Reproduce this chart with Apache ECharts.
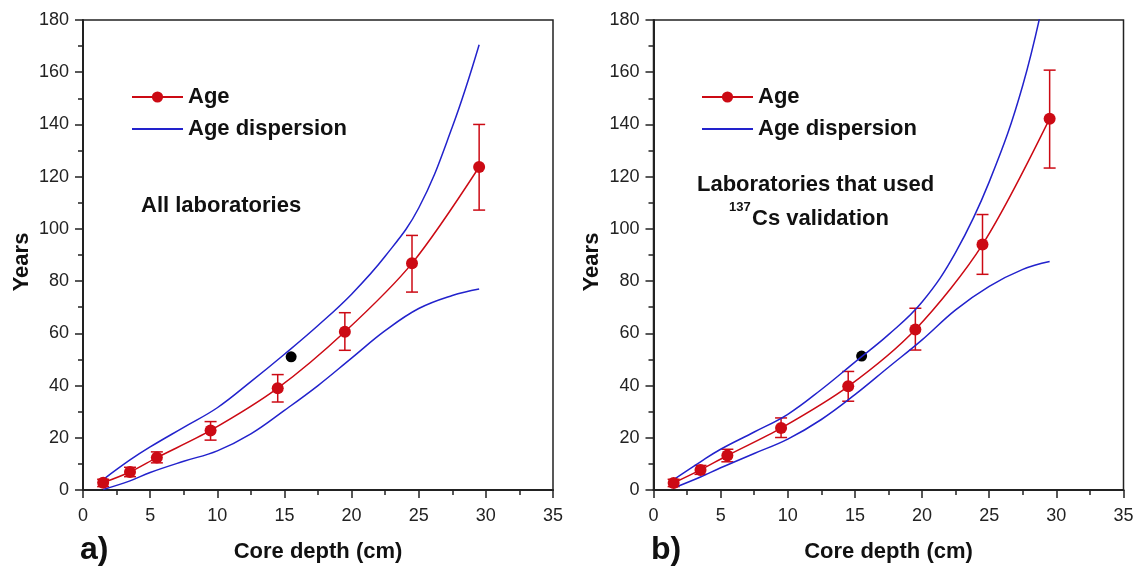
<!DOCTYPE html>
<html>
<head>
<meta charset="utf-8">
<script src="https://cdn.jsdelivr.net/npm/echarts@6/dist/echarts.min.js"></script>
<style>
  html, body { margin: 0; padding: 0; background: #fff; }
  #chart { width: 1137px; height: 566px; }
</style>
</head>
<body>
<div id="chart"></div>
<script>
// core depths of the sampled sections (cm)
const depth = [1.5, 3.5, 5.5, 9.5, 14.5, 19.5, 24.5, 29.5]

// a) all laboratories
const ageA = [2.8, 6.9, 12.4, 22.8, 39.0, 60.6, 86.8, 123.7]
const ageALow = [1.3, 5.1, 10.4, 19.1, 33.7, 53.5, 75.8, 107.2]
const ageAHigh = [4.1, 8.7, 14.6, 26.2, 44.2, 67.9, 97.5, 140.0]

// b) laboratories that used 137Cs validation
const ageB = [2.7, 7.7, 13.2, 23.7, 39.7, 61.5, 94.0, 142.2]
const ageBLow = [1.3, 6.0, 10.8, 20.1, 34.0, 53.6, 82.6, 123.3]
const ageBHigh = [4.1, 9.4, 15.6, 27.6, 45.4, 69.6, 105.5, 160.8]

// 137Cs reference point
const refDepth = [15.5]
const refAgeA = [51.0]
const refAgeB = [51.3]

// age dispersion envelopes
const dispDepth = [1.5, 3.5, 5, 7.5, 10, 12.5, 15, 17.5, 20, 22.5, 25, 27.5, 29.5]
const upperA = [4, 11.5, 16.5, 24, 31.5, 41.5, 52, 63, 75, 89.5, 108, 139, 170.5]
const lowerA = [0.2, 3.5, 6.7, 11, 15, 21.5, 30.5, 40, 50.5, 61, 69.5, 74.5, 77]
const upperB = [4, 10.8, 15.6, 22.2, 29, 38.5, 49, 59.5, 72, 91, 118, 155, 199]
const lowerB = [0.8, 5, 8.5, 14, 19.5, 27, 36.5, 47, 57.5, 69, 78, 84.5, 87.5]

const xTicks = [0, 5, 10, 15, 20, 25, 30, 35]
const yTicks = [0, 20, 40, 60, 80, 100, 120, 140, 160, 180]

const RED = '#cc0a14'
const BLUE = '#2222cc'
const FONT = 'Liberation Sans, Arial, sans-serif'

const zip = (xs, ys) => xs.map((x, i) => [x, ys[i]])

const chart = echarts.init(document.getElementById('chart'))

const makeXAxis = (gridIndex) => ({
  gridIndex,
  type: 'value',
  min: xTicks[0],
  max: xTicks[xTicks.length - 1],
  interval: 5,
  axisLine: { lineStyle: { color: '#222', width: 2 } },
  axisTick: { length: 8, lineStyle: { color: '#222', width: 1.5 } },
  minorTick: { show: true, splitNumber: 2, length: 5, lineStyle: { color: '#222', width: 1.5 } },
  splitLine: { show: false },
  axisLabel: { color: '#222', fontSize: 18, fontFamily: FONT, margin: 17 },
})

const makeYAxis = (gridIndex) => ({
  gridIndex,
  type: 'value',
  min: yTicks[0],
  max: yTicks[yTicks.length - 1],
  interval: 20,
  axisLine: { show: true, lineStyle: { color: '#222', width: 2 } },
  axisTick: { show: true, length: 8, lineStyle: { color: '#222', width: 1.5 } },
  minorTick: { show: true, splitNumber: 2, length: 5, lineStyle: { color: '#222', width: 1.5 } },
  splitLine: { show: false },
  axisLabel: { color: '#222', fontSize: 18, fontFamily: FONT, margin: 14 },
})

// vertical error bars with caps
const errorSeries = (idx, low, high) => ({
  type: 'custom',
  name: 'err',
  xAxisIndex: idx,
  yAxisIndex: idx,
  z: 3,
  data: depth.map((d, i) => [d, low[i], high[i]]),
  renderItem: (params, api) => {
    const lo = api.coord([api.value(0), api.value(1)])
    const hi = api.coord([api.value(0), api.value(2)])
    const w = 6
    const style = { stroke: RED, lineWidth: 1.5 }
    return {
      type: 'group',
      children: [
        { type: 'line', shape: { x1: lo[0], y1: lo[1], x2: hi[0], y2: hi[1] }, style },
        { type: 'line', shape: { x1: lo[0] - w, y1: lo[1], x2: lo[0] + w, y2: lo[1] }, style },
        { type: 'line', shape: { x1: hi[0] - w, y1: hi[1], x2: hi[0] + w, y2: hi[1] }, style },
      ],
    }
  },
})

const dispersion = (idx, data) => ({
  type: 'line',
  name: 'Age dispersion',
  xAxisIndex: idx,
  yAxisIndex: idx,
  smooth: 0.4,
  symbol: 'none',
  clip: true,
  lineStyle: { color: BLUE, width: 1.5 },
  itemStyle: { color: BLUE },
  data,
})

const ageLine = (idx, data) => ({
  type: 'line',
  name: 'Age',
  xAxisIndex: idx,
  yAxisIndex: idx,
  smooth: 0.3,
  symbol: 'circle',
  symbolSize: 12,
  z: 4,
  lineStyle: { color: RED, width: 1.5 },
  itemStyle: { color: RED },
  data,
})

const refPoint = (idx, data) => ({
  type: 'scatter',
  name: 'Reference',
  xAxisIndex: idx,
  yAxisIndex: idx,
  symbolSize: 11,
  itemStyle: { color: '#000', opacity: 1 },
  data,
})

const legendFor = (left) => ({
  left,
  top: 86,
  orient: 'vertical',
  padding: 0,
  data: ['Age', { name: 'Age dispersion', itemStyle: { opacity: 0 } }],
  itemWidth: 51,
  itemHeight: 14,
  itemGap: 10,
  selectedMode: false,
  textStyle: { fontSize: 22, fontWeight: 'bold', fontFamily: FONT, color: '#111' },
})

const txt = (left, top, text, size, extra) => ({
  type: 'text',
  left,
  top,
  style: Object.assign({ text, font: 'bold ' + size + 'px ' + FONT, fill: '#111' }, extra || {}),
})

const option = {
  backgroundColor: '#fff',
  animation: false,
  grid: [
    { left: 83, top: 20, width: 470, height: 470, show: true, borderColor: '#222', borderWidth: 1.5 },
    { left: 653.5, top: 20, width: 470, height: 470, show: true, borderColor: '#222', borderWidth: 1.5 },
  ],
  xAxis: [makeXAxis(0), makeXAxis(1)],
  yAxis: [makeYAxis(0), makeYAxis(1)],
  legend: [legendFor(131), legendFor(701)],
  series: [
    dispersion(0, zip(dispDepth, upperA)),
    dispersion(0, zip(dispDepth, lowerA)),
    errorSeries(0, ageALow, ageAHigh),
    ageLine(0, zip(depth, ageA)),
    refPoint(0, zip(refDepth, refAgeA)),
    dispersion(1, zip(dispDepth, upperB)),
    dispersion(1, zip(dispDepth, lowerB)),
    errorSeries(1, ageBLow, ageBHigh),
    ageLine(1, zip(depth, ageB)),
    refPoint(1, zip(refDepth, refAgeB)),
  ],
  graphic: [
    txt(141, 195, 'All laboratories', 22),
    txt(697, 174, 'Laboratories that used', 22),
    txt(729, 201, '137', 13, { font: 'bold 13px ' + FONT }),
    txt(752, 208, 'Cs validation', 22),
    // axis titles
    { type: 'text', x: 22, y: 262, rotation: Math.PI / 2,
      style: { text: 'Years', font: 'bold 22px ' + FONT, fill: '#111', align: 'center', verticalAlign: 'middle' } },
    { type: 'text', x: 592, y: 262, rotation: Math.PI / 2,
      style: { text: 'Years', font: 'bold 22px ' + FONT, fill: '#111', align: 'center', verticalAlign: 'middle' } },
    { type: 'text', x: 318, y: 552,
      style: { text: 'Core depth (cm)', font: 'bold 22px ' + FONT, fill: '#111', align: 'center', verticalAlign: 'middle' } },
    { type: 'text', x: 888.5, y: 552,
      style: { text: 'Core depth (cm)', font: 'bold 22px ' + FONT, fill: '#111', align: 'center', verticalAlign: 'middle' } },
    // panel letters
    { type: 'text', x: 80, y: 550,
      style: { text: 'a)', font: 'bold 32px ' + FONT, fill: '#111', verticalAlign: 'middle' } },
    { type: 'text', x: 651, y: 550,
      style: { text: 'b)', font: 'bold 32px ' + FONT, fill: '#111', verticalAlign: 'middle' } },
  ],
}

chart.setOption(option)
</script>
</body>
</html>
